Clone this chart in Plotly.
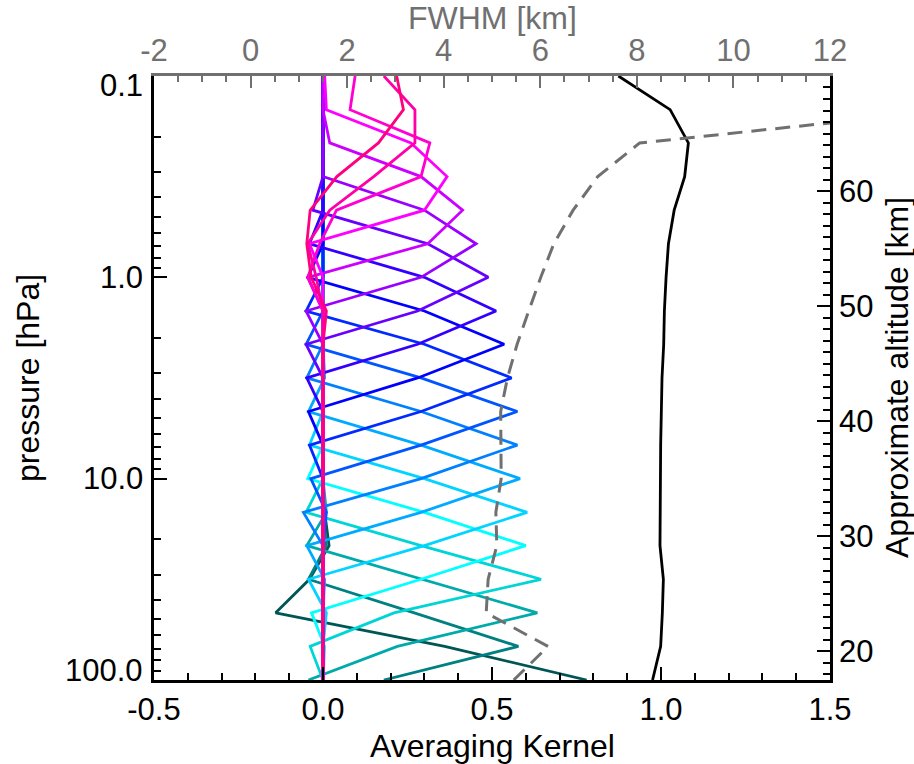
import numpy as np
import plotly.graph_objects as go

# Retrieval grid (hPa), bottom to top
pressure = [100.0, 68.1, 46.4, 31.6, 21.5, 14.7, 10.0, 6.81, 4.64, 3.16,
            2.15, 1.47, 1.0, 0.681, 0.464, 0.316, 0.215, 0.147, 0.1]

# Averaging-kernel rows: row k peaks at pressure[k]; columns follow `pressure`
ak_rows = [
    [0.78, 0.36, -0.14, -0.04, 0.018, 0.005, 0.0, 0.002, 0.0, 0.0, 0.0, 0.0, 0.0, 0.0, 0.0, 0.0, 0.0, 0.0, 0.0],
    [0.18, 0.578, 0.27, -0.043, 0.01, 0.0, 0.0, 0.0, 0.0, 0.0, 0.0, 0.0, 0.0, 0.0, 0.0, 0.0, 0.0, 0.0, 0.0],
    [-0.043, 0.22, 0.634, 0.29, -0.048, 0.01, 0.0, 0.0, 0.0, 0.0, 0.0, 0.0, 0.0, 0.0, 0.0, 0.0, 0.0, 0.0, 0.0],
    [0.0, -0.038, 0.21, 0.645, 0.29, -0.05, 0.0, 0.0, 0.0, 0.0, 0.0, 0.0, 0.0, 0.0, 0.0, 0.0, 0.0, 0.0, 0.0],
    [0.0, 0.005, -0.034, 0.29, 0.600, 0.30, -0.045, 0.0, 0.0, 0.0, 0.0, 0.0, 0.0, 0.0, 0.0, 0.0, 0.0, 0.0, 0.0],
    [0.0, 0.0, 0.01, -0.043, 0.30, 0.604, 0.30, -0.04, 0.0, 0.0, 0.0, 0.0, 0.0, 0.0, 0.0, 0.0, 0.0, 0.0, 0.0],
    [0.0, 0.0, 0.0, 0.005, -0.048, 0.29, 0.583, 0.29, -0.043, 0.005, 0.0, 0.0, 0.0, 0.0, 0.0, 0.0, 0.0, 0.0, 0.0],
    [0.0, 0.0, 0.0, 0.0, 0.0, -0.058, 0.29, 0.575, 0.29, -0.048, 0.0, 0.0, 0.0, 0.0, 0.0, 0.0, 0.0, 0.0, 0.0],
    [0.0, 0.0, 0.0, 0.0, 0.0, 0.01, -0.036, 0.29, 0.575, 0.29, -0.05, 0.0, 0.0, 0.0, 0.0, 0.0, 0.0, 0.0, 0.0],
    [0.0, 0.0, 0.0, 0.0, 0.0, 0.0, 0.0, -0.04, 0.29, 0.558, 0.30, -0.05, 0.0, 0.0, 0.0, 0.0, 0.0, 0.0, 0.0],
    [0.0, 0.0, 0.0, 0.0, 0.0, 0.0, 0.0, 0.0, -0.043, 0.28, 0.536, 0.30, -0.045, 0.0, 0.0, 0.0, 0.0, 0.0, 0.0],
    [0.0, 0.0, 0.0, 0.0, 0.0, 0.0, 0.0, 0.0, 0.0, -0.048, 0.28, 0.512, 0.30, -0.04, 0.0, 0.0, 0.0, 0.0, 0.0],
    [0.0, 0.0, 0.0, 0.0, 0.0, 0.0, 0.0, 0.0, 0.0, 0.0, -0.05, 0.28, 0.489, 0.31, -0.03, 0.0, 0.0, 0.0, 0.0],
    [0.0, 0.0, 0.0, 0.0, 0.0, 0.0, 0.0, 0.0, 0.0, 0.0, 0.0, -0.05, 0.29, 0.453, 0.30, 0.0, 0.0, 0.0, 0.0],
    [0.0, 0.0, 0.0, 0.0, 0.0, 0.0, 0.0, 0.0, 0.0, 0.0, 0.0, 0.0, -0.045, 0.31, 0.413, 0.29, 0.02, 0.0, 0.0],
    [0.0, 0.0, 0.0, 0.0, 0.0, 0.0, 0.0, 0.0, 0.0, 0.0, 0.0, 0.0, 0.0, -0.04, 0.30, 0.367, 0.26, 0.01, 0.005],
    [0.0, 0.0, 0.0, 0.0, 0.0, 0.0, 0.0, 0.0, 0.0, 0.0, 0.0, 0.0, -0.045, -0.01, 0.04, 0.29, 0.316, 0.08, 0.095],
    [0.0, 0.0, 0.0, 0.0, 0.0, 0.0, 0.0, 0.0, 0.0, 0.0, 0.0, 0.0, -0.02, -0.045, 0.02, 0.15, 0.272, 0.272, 0.18],
    [0.0, 0.0, 0.0, 0.0, 0.0, 0.0, 0.0, 0.0, 0.0, 0.0, 0.0, 0.01, -0.035, -0.048, -0.038, 0.041, 0.164, 0.238, 0.218],
]

# Line colour for each kernel row (low levels teal -> high levels pink)
ak_colors = ['#005555', '#008080', '#00aaaa', '#00d5d5', '#00ffff', '#00d4ff',
             '#00aaff', '#0080ff', '#0055ff', '#002aff', '#0000ff', '#3300ff',
             '#6600ff', '#9900ff', '#cc00ff', '#ff00ff', '#ff00d0', '#ff00a8',
             '#ff0080']

# Sum of each kernel row ("area"), plotted against the bottom axis
ak_area = [0.975, 0.999, 1.004, 1.007, 0.997, 0.997, 0.997, 0.999, 1.001, 1.003,
           1.008, 1.010, 1.015, 1.022, 1.039, 1.070, 1.081, 1.027, 0.874]

# Vertical resolution (FWHM of each kernel, km), top axis; last level omitted
fwhm_km = [5.45, 6.16, 4.88, 4.92, 5.10, 5.08, 5.19, 5.19, 5.18, 5.32,
           5.52, 5.76, 6.01, 6.28, 6.68, 7.19, 8.06, 14.6]

# Axis labels
bottom_ticks = [-0.5, 0.0, 0.5, 1.0, 1.5]
bottom_text = ['-0.5', '0.0', '0.5', '1.0', '1.5']
top_ticks = [-2, 0, 2, 4, 6, 8, 10, 12]
top_text = ['-2', '0', '2', '4', '6', '8', '10', '12']
p_ticks = [0.1, 1.0, 10.0, 100.0]
p_text = ['0.1', '1.0', '10.0', '100.0']
alt_ticks = [20, 30, 40, 50, 60]

SCALE_HEIGHT = 7.6    # km, for the approximate-altitude axis
P_SURF = 1000.0       # hPa

FONT = 'Liberation Sans, Arial, Helvetica, sans-serif'
GREY = '#707070'
TICK_SIZE = 31
TITLE_SIZE = 32

fig = go.Figure()

for row, col in zip(ak_rows, ak_colors):
    fig.add_trace(go.Scatter(x=row, y=pressure, mode='lines',
                             line=dict(color=col, width=2.8),
                             xaxis='x', yaxis='y', hoverinfo='skip'))

fig.add_trace(go.Scatter(x=ak_area, y=pressure, mode='lines',
                         line=dict(color='black', width=2.8),
                         xaxis='x', yaxis='y', hoverinfo='skip'))

fig.add_trace(go.Scatter(x=fwhm_km, y=pressure[:len(fwhm_km)], mode='lines',
                         line=dict(color=GREY, width=3, dash='15px,9px'),
                         xaxis='x2', yaxis='y', hoverinfo='skip'))

p_top, p_bot = min(pressure), max(pressure)
alt_lo = SCALE_HEIGHT * np.log(P_SURF / p_bot)
alt_hi = SCALE_HEIGHT * np.log(P_SURF / p_top)

# invisible trace that anchors the altitude axis
fig.add_trace(go.Scatter(x=[None], y=[None], xaxis='x', yaxis='y2',
                         showlegend=False, hoverinfo='skip'))

minor_bottom = [round(v, 1) for v in np.arange(-0.5, 1.51, 0.1)
                if round(v, 1) not in bottom_ticks]
minor_p = [m * d for d in (0.1, 1.0, 10.0) for m in range(2, 10)]

fig.update_layout(
    width=914, height=764,
    margin=dict(l=154, r=84, t=76, b=84, pad=0),
    plot_bgcolor='white', paper_bgcolor='white',
    showlegend=False,
    font=dict(family=FONT, size=TICK_SIZE, color='black'),
    xaxis=dict(
        range=[-0.5, 1.5], tickmode='array', tickvals=bottom_ticks,
        ticktext=bottom_text, ticks='inside', ticklen=13, tickwidth=2,
        tickcolor='black', showline=True, linecolor='black', linewidth=2.5,
        showgrid=False, zeroline=False, mirror=False,
        tickfont=dict(size=TICK_SIZE, color='black', family=FONT),
        minor=dict(tickmode='array', tickvals=minor_bottom, ticks='inside',
                   ticklen=7, tickwidth=2, tickcolor='black', showgrid=False),
    ),
    xaxis2=dict(
        overlaying='x', side='top', anchor='y',
        range=[-2, 12], tickmode='array', tickvals=top_ticks, ticktext=top_text,
        ticks='inside', ticklen=12, tickwidth=2, tickcolor=GREY,
        showline=True, linecolor=GREY, linewidth=2.5,
        showgrid=False, zeroline=False,
        tickfont=dict(size=TICK_SIZE, color=GREY, family=FONT),
        minor=dict(dtick=0.5, tick0=0, ticks='inside', ticklen=6, tickwidth=2,
                   tickcolor=GREY, showgrid=False),
    ),
    yaxis=dict(
        type='log', range=[np.log10(p_bot), np.log10(p_top)],
        tickmode='array', tickvals=p_ticks, showticklabels=False,
        ticks='inside', ticklen=13, tickwidth=2, tickcolor='black',
        showline=True, linecolor='black', linewidth=2.5,
        showgrid=False, zeroline=False,
        minor=dict(tickmode='array', tickvals=minor_p, ticks='inside',
                   ticklen=7, tickwidth=2, tickcolor='black', showgrid=False),
    ),
    yaxis2=dict(
        overlaying='y', side='right', anchor='x',
        range=[alt_lo, alt_hi], tickmode='array', tickvals=alt_ticks,
        ticks='inside', ticklen=13, tickwidth=2, tickcolor='black',
        showline=True, linecolor='black', linewidth=2.5,
        showgrid=False, zeroline=False,
        tickfont=dict(size=TICK_SIZE, color='black', family=FONT),
        minor=dict(dtick=1, tick0=0, ticks='inside', ticklen=7, tickwidth=2,
                   tickcolor='black', showgrid=False),
    ),
)

# Pressure tick labels; the end labels sit just inside the axis span
label_shift = {0.1: -9, 1.0: 0, 10.0: 0, 100.0: 10}
annotations = []
for val, txt in zip(p_ticks, p_text):
    annotations.append(dict(
        x=0, xref='paper', xanchor='right', xshift=-9,
        y=np.log10(val), yref='y', yanchor='middle', yshift=label_shift[val],
        text=txt, showarrow=False,
        font=dict(size=TICK_SIZE, color='black', family=FONT)))

annotations += [
    dict(x=0.5, xref='paper', y=1, yref='paper', yshift=58, yanchor='middle',
         text='FWHM [km]', showarrow=False,
         font=dict(size=TITLE_SIZE, color=GREY, family=FONT)),
    dict(x=0.5, xref='paper', y=0, yref='paper', yshift=-66, yanchor='middle',
         text='Averaging Kernel', showarrow=False,
         font=dict(size=TITLE_SIZE, color='black', family=FONT)),
    dict(x=0, xref='paper', xshift=-126, xanchor='center', y=0.5, yref='paper',
         yanchor='middle', text='pressure [hPa]', textangle=-90, showarrow=False,
         font=dict(size=TITLE_SIZE, color='black', family=FONT)),
    dict(x=1, xref='paper', xshift=67, xanchor='center', y=0.5, yref='paper',
         yanchor='middle', text='Approximate altitude [km]', textangle=-90,
         showarrow=False,
         font=dict(size=TITLE_SIZE, color='black', family=FONT)),
]
fig.update_layout(annotations=annotations)

fig.write_html('out.html')
